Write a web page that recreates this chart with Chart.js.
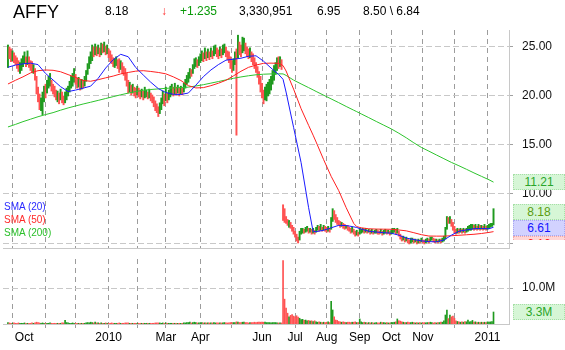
<!DOCTYPE html>
<html>
<head>
<meta charset="utf-8">
<script src="https://cdn.jsdelivr.net/npm/chart.js@4.4.1/dist/chart.umd.min.js"></script>
<style>
  body { margin: 0; background: #fff; font-family: "Liberation Sans", Arial, sans-serif; }
  #wrap { position: relative; width: 565px; height: 350px; overflow: hidden; background: #fff; }
  canvas { position: absolute; left: 0; }
  .hd { position: absolute; top: 5px; font-size: 12px; line-height: 12px; color: #000; white-space: pre; }
  #sym { top: 3px; left: 13px; font-size: 18px; line-height: 18px; }
  .lg { position: absolute; left: 4px; font-size: 10px; line-height: 13px; white-space: pre; }
  #tags { position: absolute; left: 513px; top: 0; width: 52px; height: 240px; overflow: hidden; }
  .tag { position: absolute; left: 0; width: 50px; height: 14px; border: 1px dotted; font-size: 12px; line-height: 14px; text-align: center; }
</style>
</head>
<body>
<div id="wrap">
  <canvas id="price" width="565" height="250" style="top:0"></canvas>
  <canvas id="vol" width="565" height="100" style="top:250px"></canvas>

  <div class="hd" id="sym">AFFY</div>
  <div class="hd" style="left:105px">8.18</div>
  <div class="hd" style="left:161px;color:#ff3030">↓</div>
  <div class="hd" style="left:180px;color:#0a9a0a">+1.235</div>
  <div class="hd" style="left:239px">3,330,951</div>
  <div class="hd" style="left:317px">6.95</div>
  <div class="hd" style="left:363px">8.50 \ 6.84</div>

  <div class="lg" style="top:200px;color:#2a2aff">SMA (20)</div>
  <div class="lg" style="top:213px;color:#ff2a2a">SMA (50)</div>
  <div class="lg" style="top:226px;color:#2cc02c">SMA (200)</div>

  <div id="tags"></div>
</div>
<script>
// trading day index 0 = 28 Sep 2009, last bar 323 = 7 Jan 2011
const monthDays = [3, 25, 45, 67, 86, 105, 128, 149, 169, 191, 212, 234, 255, 276, 297, 319];
const monthLabels = ['       Oct', '', '', '2010', '', 'Mar', 'Apr', '', 'Jun', 'Jul', 'Aug', 'Sep', 'Oct', 'Nov', '', '2011'];
const priceTicks = [5, 10, 15, 20, 25];
const volTicks = [10];

const lows = [
  22.9,23.8,23.5,23.6,23.4,23.2,22.8,22.5,22.3,22.6,
  23.0,23.3,23.0,23.2,22.9,22.6,22.4,22.3,21.6,20.2,
  19.4,18.6,18.5,18.1,19.4,19.8,20.3,20.8,21.0,20.5,
  20.2,19.9,19.6,19.4,19.2,19.6,19.3,19.1,19.3,19.6,
  20.0,20.4,20.8,21.0,21.4,21.2,20.8,20.9,20.6,20.7,
  20.8,21.0,21.5,22.2,22.8,23.3,23.6,24.0,24.2,24.1,
  24.3,24.0,24.2,24.4,24.5,24.2,24.3,23.9,23.5,23.3,
  23.0,22.9,23.1,22.8,22.4,22.7,22.3,22.1,21.6,21.0,
  20.3,20.4,20.1,20.3,20.0,19.8,20.1,19.9,19.7,19.9,
  19.6,19.8,19.9,19.7,19.8,19.5,19.3,18.9,18.5,18.3,
  17.9,18.2,18.6,19.2,19.0,19.5,19.3,19.6,19.9,20.1,
  20.0,20.2,20.1,20.3,20.0,20.2,20.1,20.4,20.8,21.2,
  21.4,21.8,22.0,22.3,22.8,23.0,22.9,23.1,23.4,23.6,
  23.5,23.8,23.6,23.9,23.7,24.0,23.8,24.1,24.3,24.0,
  23.8,24.1,23.9,24.2,24.4,24.0,23.7,23.4,22.8,22.4,
  22.6,23.2,16.0,23.9,24.2,24.0,24.4,24.6,24.3,24.0,
  23.8,23.9,23.5,23.2,22.8,22.4,21.9,21.2,20.4,19.8,
  19.2,19.6,19.5,20.0,20.2,20.6,21.2,21.6,22.2,22.6,
  22.8,23.0,22.7,7.3,7.1,7.0,6.8,6.6,6.5,6.2,
  5.9,5.6,5.2,5.0,5.3,5.9,6.0,6.0,6.1,6.2,
  6.0,6.1,5.9,6.0,5.9,6.1,6.3,6.2,6.3,6.2,
  6.3,6.2,6.1,6.2,6.1,6.4,7.2,7.4,7.1,6.9,
  6.8,6.6,6.7,6.5,6.4,6.5,6.3,6.2,6.0,6.1,
  5.9,5.7,5.8,5.7,5.9,6.0,6.1,6.0,6.1,6.0,
  6.1,5.9,6.0,5.9,6.0,6.0,5.9,5.9,6.0,5.8,
  5.9,6.0,5.9,6.0,5.8,5.9,6.0,6.1,5.9,6.0,
  5.7,5.4,5.2,5.3,5.1,5.2,5.0,4.9,5.0,5.1,
  5.0,5.1,4.9,5.0,5.0,5.1,5.0,4.9,5.0,5.1,
  5.0,5.2,5.3,5.1,5.0,5.1,5.0,5.1,5.0,5.1,
  5.2,5.4,6.4,7.0,7.0,6.7,6.3,6.0,5.9,6.0,
  6.0,6.1,6.0,6.1,6.0,6.1,6.2,6.3,6.3,6.4,
  6.3,6.4,6.3,6.4,6.3,6.4,6.3,6.4,6.3,6.4,
  6.5,6.6,6.7,6.84
];
const highs = [
  25.2,25.0,24.8,24.6,24.4,24.1,23.9,23.6,23.4,23.8,
  24.1,24.5,24.0,24.6,24.0,23.6,23.5,23.2,22.8,22.0,
  20.9,20.2,19.8,20.4,21.0,21.2,21.6,22.0,22.3,21.6,
  21.2,21.0,20.6,20.5,20.3,20.7,20.4,20.0,20.4,20.8,
  21.0,21.5,22.0,22.3,22.8,22.2,21.8,21.9,21.6,21.7,
  21.6,22.0,22.6,23.3,24.0,24.5,25.2,25.0,25.3,25.0,
  25.2,24.9,25.4,25.3,25.5,25.1,25.2,24.8,24.6,24.2,
  23.9,23.8,24.0,23.7,23.8,23.6,23.4,23.0,22.8,22.3,
  21.6,21.4,21.1,21.2,20.9,20.8,21.0,20.8,20.6,20.7,
  20.5,20.9,20.6,20.4,20.7,20.3,20.1,19.9,19.5,19.2,
  18.9,19.3,19.8,20.5,20.2,20.9,20.3,20.6,21.0,21.2,
  20.9,21.3,20.9,21.1,20.8,21.0,20.8,21.3,21.7,22.1,
  22.4,22.8,22.7,23.2,23.8,23.9,23.7,24.0,24.3,24.6,
  24.4,24.9,24.5,24.8,24.5,24.9,24.6,25.1,25.2,24.9,
  24.7,25.0,24.8,25.2,25.3,25.0,24.6,24.5,24.0,23.6,
  23.8,24.5,24.8,26.2,25.5,25.2,26.0,25.9,25.4,25.0,
  24.8,24.9,24.5,24.3,23.9,23.4,23.0,22.5,22.0,21.3,
  20.6,20.9,21.2,21.4,21.7,22.0,22.6,23.1,23.4,23.9,
  24.0,24.0,23.7,8.9,8.5,7.7,7.4,7.3,7.1,6.8,
  6.6,6.2,5.9,5.6,6.2,6.5,6.5,6.4,6.6,6.7,
  6.5,6.5,6.4,6.5,6.3,6.6,6.8,6.7,6.9,6.6,
  6.8,6.7,6.6,6.7,6.5,7.6,8.5,8.3,7.9,7.6,
  7.3,7.2,7.1,7.0,6.9,6.8,6.8,6.6,6.5,6.6,
  6.4,6.2,6.3,6.1,6.5,6.4,6.5,6.4,6.5,6.3,
  6.4,6.3,6.4,6.2,6.3,6.4,6.3,6.2,6.4,6.2,
  6.3,6.4,6.3,6.3,6.2,6.3,6.5,6.5,6.4,6.5,
  6.2,5.9,5.7,5.7,5.5,5.6,5.4,5.3,5.5,5.5,
  5.4,5.4,5.3,5.4,5.3,5.5,5.3,5.3,5.4,5.5,
  5.4,5.6,5.6,5.5,5.4,5.4,5.3,5.4,5.4,5.5,
  5.7,6.6,7.7,7.6,7.7,7.4,7.1,6.7,6.4,6.5,
  6.4,6.5,6.4,6.5,6.4,6.5,6.7,6.8,6.9,6.9,
  6.8,6.9,6.7,6.9,6.8,6.8,6.7,6.9,6.7,6.8,
  6.9,7.0,7.0,8.5
];
// u = up day (green), d = down day (red)
const dirs = [
  'uddudddduu','uududddudd','dduuuduuud','dddududduu','uuuuuddudu',
  'duuuuuudud','ududududdd','duuddudddd','dududduddu','duududdddd',
  'duuududuuu','dudududuuu','uuduuuduuu','dudududuud','duduuddddd',
  'uududduudd','dudddddddd','duuuuuuuuu','dudddddudd','dddduuuduu',
  'dududuudud','udduduuddd','dduddudddu','dduduuudud','ududuuddud',
  'uududuuudu','dddududduu','dudududduu','duuddududu','uuududdddu',
  'dududuuuuu','dududududu','uuuu'
].join('');
// volume in millions of shares
const volumes = [
  0.4,0.3,0.2,0.2,0.3,0.2,0.2,0.3,0.2,0.2,
  0.2,0.3,0.2,0.2,0.2,0.2,0.3,0.2,0.3,0.5,
  0.4,0.3,0.2,0.3,0.2,0.2,0.2,0.2,0.3,0.2,
  0.2,0.2,0.2,0.2,0.2,0.2,0.3,0.3,1.0,0.4,
  0.3,0.2,0.2,0.3,0.2,0.2,0.2,0.2,0.2,0.2,
  0.2,0.2,0.3,0.4,0.3,0.5,0.4,0.3,0.5,0.3,
  0.3,0.2,0.3,0.2,0.2,0.3,0.2,0.2,0.2,0.3,
  0.2,0.2,0.2,0.2,0.3,0.2,0.2,0.2,0.3,0.3,
  0.3,0.2,0.2,0.2,0.2,0.2,0.2,0.2,0.2,0.2,
  0.2,0.2,0.2,0.2,0.2,0.2,0.2,0.2,0.3,0.3,
  0.3,0.3,0.2,0.3,0.2,0.3,0.2,0.2,0.2,0.2,
  0.2,0.2,0.2,0.2,0.2,0.2,0.2,0.3,0.3,0.4,
  0.4,0.5,0.3,0.4,0.5,0.4,0.3,0.3,0.3,0.4,
  0.3,0.3,0.3,0.3,0.3,0.3,0.3,0.4,0.3,0.3,
  0.3,0.3,0.3,0.3,0.4,0.3,0.3,0.3,0.4,0.4,
  0.4,0.4,0.6,0.5,0.4,0.4,0.5,0.5,0.4,0.4,
  0.3,0.4,0.4,0.4,0.5,0.4,0.5,0.5,0.5,0.5,
  0.5,0.5,0.4,0.4,0.4,0.3,0.4,0.4,0.4,0.3,
  0.3,0.3,0.3,17.6,6.9,4.4,3.0,2.0,2.4,2.6,
  2.2,2.0,2.3,1.9,1.6,1.2,1.3,1.0,1.1,0.9,
  1.0,0.8,0.9,0.7,0.9,0.6,0.5,0.6,0.5,0.4,
  0.5,0.4,0.5,0.6,0.4,6.3,3.9,2.0,1.1,1.0,
  0.7,0.6,0.5,0.6,0.5,0.4,0.5,0.5,0.4,0.5,
  0.5,0.6,0.4,0.4,1.4,0.6,0.4,0.5,0.4,0.3,
  0.4,0.3,0.4,0.3,0.3,0.4,0.3,0.3,0.5,0.4,
  0.4,0.3,0.4,0.3,0.3,0.4,0.4,0.5,0.6,1.4,
  0.9,0.8,0.6,0.5,0.4,0.4,0.5,0.4,0.4,0.5,
  0.4,0.3,0.4,0.3,0.4,0.3,0.3,0.4,0.3,0.4,
  0.4,0.5,0.4,0.3,0.4,0.3,0.4,0.4,0.5,0.5,
  0.9,2.5,3.9,1.5,2.5,2.0,2.2,1.6,0.9,0.7,
  0.6,0.5,0.6,0.5,0.7,0.6,1.1,0.6,0.7,1.0,
  0.5,0.6,0.4,0.5,0.4,0.5,0.4,0.5,0.4,0.6,
  0.5,0.6,0.7,3.33
];

// moving averages at these day indexes
const smaDays = [0,5,10,15,20,25,30,35,40,45,50,55,60,65,70,75,80,85,90,95,100,105,110,115,120,125,130,135,140,145,150,155,160,165,170,175,180,183,185,190,195,200,203,205,210,215,220,225,230,232,235,240,245,250,255,260,265,270,275,280,285,290,295,300,305,310,315,320,323];
const sma20 = [22.93,23.15,23.28,23.35,23.2,22.3,21.63,20.95,20.45,20.6,20.8,21.0,21.8,22.85,23.7,24.25,24.0,22.9,22.14,21.4,20.75,20.35,20.17,20.15,20.3,21.1,21.97,22.65,23.2,23.65,23.75,23.85,24.05,24.1,23.55,22.85,22.2,21.7,20.4,16.8,13.2,8.6,6.16,6.16,6.3,6.55,6.8,6.78,6.65,6.58,6.42,6.2,6.12,6.05,6.0,5.8,5.5,5.35,5.22,5.14,5.12,5.3,5.8,6.2,6.33,6.46,6.48,6.45,6.61];
const sma50 = [21.22,21.6,21.95,22.35,22.58,22.65,22.62,22.47,22.18,21.9,21.58,21.5,21.66,21.85,22.03,22.25,22.4,22.53,22.58,22.5,22.4,22.26,21.95,21.58,21.05,20.82,20.85,21.05,21.3,21.6,22.05,22.52,22.92,23.15,23.33,23.35,23.33,23.1,22.55,20.7,18.7,17.0,16.0,15.3,13.5,11.8,10.35,8.6,7.0,6.67,6.55,6.45,6.42,6.41,6.4,6.33,6.24,6.05,5.85,5.71,5.7,5.7,5.74,5.79,5.84,5.89,5.97,6.08,6.16];
const sma200 = [16.84,17.1,17.38,17.63,17.88,18.1,18.3,18.55,18.78,18.98,19.18,19.36,19.55,19.74,19.93,20.12,20.29,20.45,20.58,20.66,20.72,20.78,20.82,20.86,20.9,21.02,21.15,21.31,21.47,21.64,21.8,21.94,22.06,22.16,22.22,22.25,22.26,22.25,22.1,21.62,21.23,20.85,20.62,20.46,20.08,19.7,19.32,18.93,18.55,18.4,18.17,17.79,17.4,17.02,16.64,16.2,15.73,15.22,14.75,14.37,13.98,13.6,13.22,12.88,12.52,12.15,11.8,11.45,11.21];
const lastClose = 8.18;

const UP = '#1f9a1f';
const DOWN = '#ff5252';
const barColors = dirs.split('').map(d => (d === 'u' ? UP : DOWN));

Chart.defaults.font.family = '"Liberation Sans", Arial, sans-serif';
Chart.defaults.font.size = 12;

const smaLine = (values, color) => ({
  type: 'line',
  data: smaDays.map((d, k) => ({ x: d, y: values[k] })),
  borderColor: color,
  borderWidth: 1,
  pointRadius: 0,
  tension: 0,
  order: 0
});

const X_MIN = -3.3, X_MAX = 333.3;
const monthTicks = axis => { axis.ticks = monthDays.map(v => ({ value: v })); };
// keep label overhang from shrinking the plot area
const fixWidth = axis => { axis.width = 56; axis.paddingTop = 0; axis.paddingBottom = 0; };

const priceChart = new Chart(document.getElementById('price'), {
  type: 'bar',
  data: {
    datasets: [
      smaLine(sma20, '#1a1aff'),
      smaLine(sma50, '#ff2020'),
      smaLine(sma200, '#2ec42e'),
      {
        type: 'bar',
        data: lows.map((l, i) => ({ x: i, y: [l, highs[i]] })),
        backgroundColor: barColors,
        barThickness: 1.3,
        order: 1
      }
    ]
  },
  options: {
    responsive: false,
    animation: false,
    events: [],
    layout: { padding: { top: 30, left: 3, right: 0, bottom: 2 } },
    plugins: { legend: { display: false }, tooltip: { enabled: false } },
    scales: {
      x: {
        type: 'linear', min: X_MIN, max: X_MAX, offset: false,
        afterBuildTicks: monthTicks,
        afterFit: axis => { axis.height = 0; axis.paddingLeft = 0; axis.paddingRight = 0; },
        ticks: { display: false },
        grid: { color: '#9c9c9c', offset: false, drawTicks: false },
        border: { color: '#c8c8c8', dash: [5, 4] }
      },
      y: {
        position: 'right', min: 4.49, max: 26.73,
        afterBuildTicks: axis => { axis.ticks = priceTicks.map(v => ({ value: v })); },
        afterFit: fixWidth,
        ticks: { padding: 9, color: '#111', callback: v => (v === 5 ? '' : v.toFixed(2)) },
        grid: { color: '#c8c8c8', tickLength: 4, tickColor: '#a0a0a0' },
        border: { color: '#c8c8c8', dash: [6, 3] }
      }
    }
  }
});

const volChart = new Chart(document.getElementById('vol'), {
  type: 'bar',
  data: {
    datasets: [{
      data: volumes.map((v, i) => ({ x: i, y: v })),
      backgroundColor: barColors,
      barThickness: 1
    }]
  },
  options: {
    responsive: false,
    animation: false,
    events: [],
    layout: { padding: { top: 9, left: 3, right: 0, bottom: 0 } },
    plugins: { legend: { display: false }, tooltip: { enabled: false } },
    scales: {
      x: {
        type: 'linear', min: X_MIN, max: X_MAX, offset: false,
        afterBuildTicks: monthTicks,
        afterFit: axis => { axis.height = 26; axis.paddingLeft = 0; axis.paddingRight = 0; },
        ticks: { autoSkip: false, maxRotation: 0, padding: 2, color: '#000', callback: (v, i) => monthLabels[i] },
        grid: { color: '#9c9c9c', offset: false, tickLength: 4, tickColor: '#9c9c9c' },
        border: { color: '#c8c8c8', dash: [5, 4] }
      },
      y: {
        position: 'right', min: 0, max: 18.06,
        afterBuildTicks: axis => { axis.ticks = volTicks.map(v => ({ value: v })); },
        afterFit: fixWidth,
        ticks: { padding: 9, color: '#111', callback: v => v.toFixed(1) + 'M' },
        grid: { color: '#c8c8c8', tickLength: 4, tickColor: '#a0a0a0' },
        border: { color: '#c8c8c8', dash: [6, 3] }
      }
    }
  }
});

// last-value tags on the right axis, pushed down so they do not overlap
const tags = [
  { v: sma200[sma200.length - 1], bg: '#d6f6d6', bd: '#a6dea6', fg: '#2aa52a' },
  { v: lastClose, bg: '#d6f6d6', bd: '#a6dea6', fg: '#5a9c10' },
  { v: sma20[sma20.length - 1], bg: '#d2d2ff', bd: '#a8a8f0', fg: '#1414ff' },
  { v: sma50[sma50.length - 1], bg: '#ffd6d6', bd: '#f0a8a8', fg: '#ff2020' }
];
const py = priceChart.scales.y;
tags.forEach(t => { t.y = py.getPixelForValue(t.v); });
tags.sort((a, b) => a.y - b.y);
let prevBottom = -100;
const holder = document.getElementById('tags');
tags.forEach(t => {
  const top = Math.max(Math.round(t.y - 8), prevBottom);
  prevBottom = top + 16;
  const el = document.createElement('div');
  el.className = 'tag';
  el.style.top = top + 'px';
  el.style.background = t.bg;
  el.style.borderColor = t.bd;
  el.style.color = t.fg;
  el.textContent = t.v.toFixed(2);
  holder.appendChild(el);
});

const vy = volChart.scales.y;
const lastVol = volumes[volumes.length - 1];
const vtag = document.createElement('div');
vtag.className = 'tag';
vtag.style.left = '513px';
vtag.style.top = Math.round(250 + vy.getPixelForValue(lastVol) - 8) + 'px';
vtag.style.background = '#d6f6d6';
vtag.style.borderColor = '#a6dea6';
vtag.style.color = '#2aa52a';
vtag.textContent = lastVol.toFixed(1) + 'M';
document.getElementById('wrap').appendChild(vtag);
</script>
</body>
</html>
